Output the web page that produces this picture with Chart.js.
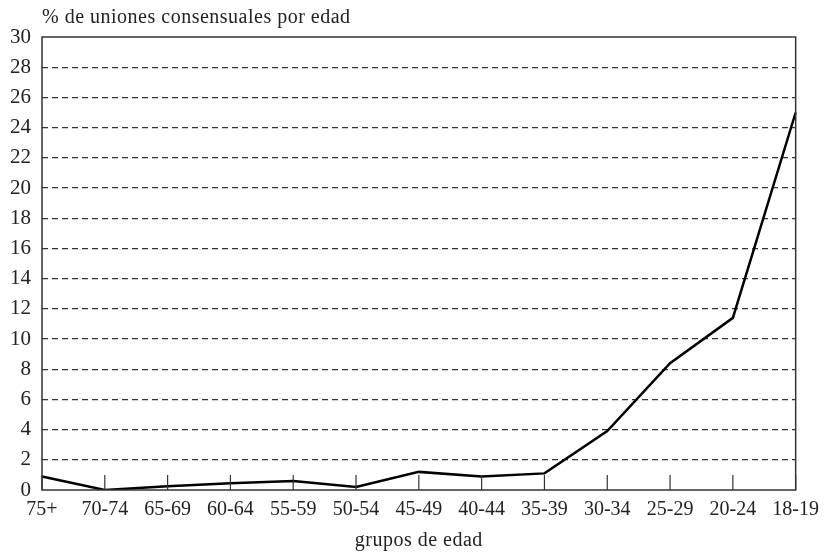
<!DOCTYPE html>
<html>
<head>
<meta charset="utf-8">
<script src="https://cdn.jsdelivr.net/npm/chart.js@4.4.1/dist/chart.umd.min.js"></script>
<style>
  html, body { margin: 0; padding: 0; background: #fff; }
  #wrap { width: 827px; height: 555px; position: relative; }
</style>
</head>
<body>
<div id="wrap"><canvas id="chart"></canvas></div>
<script>
// -----------------------------
// Data
// -----------------------------
const ageGroups = ["75+", "70-74", "65-69", "60-64", "55-59", "50-54", "45-49",
  "40-44", "35-39", "30-34", "25-29", "20-24", "18-19"];
const consensualPct = [0.9, 0.0, 0.25, 0.45, 0.6, 0.2, 1.2, 0.9, 1.1, 3.9, 8.4, 11.4, 25.0];
const yTicks = [0, 2, 4, 6, 8, 10, 12, 14, 16, 18, 20, 22, 24, 26, 28, 30];

const yTitle = "% de uniones consensuales por edad";
const xTitle = "grupos de edad";

const FONT = "'Liberation Serif', 'Times New Roman', serif";
const INK = "#222";

// -----------------------------
// Frame, inward ticks and titles
// -----------------------------
const framePlugin = {
  id: "frame",
  afterDraw(chart) {
    const { ctx, chartArea: a, scales } = chart;
    ctx.save();
    ctx.strokeStyle = "#333";
    ctx.lineWidth = 1.5;
    ctx.strokeRect(a.left, a.top, a.right - a.left, a.bottom - a.top);

    // category ticks pointing up into the plot
    ctx.lineWidth = 1.2;
    const x = scales.x;
    ageGroups.forEach((_, i) => {
      const px = x.getPixelForTick(i);
      ctx.beginPath();
      ctx.moveTo(px, a.bottom);
      ctx.lineTo(px, a.bottom - 15);
      ctx.stroke();
    });

    ctx.fillStyle = INK;
    ctx.font = "20px " + FONT;
    ctx.letterSpacing = "0.5px";
    ctx.textBaseline = "middle";
    ctx.textAlign = "left";
    ctx.fillText(yTitle, a.left, 18);
    ctx.textAlign = "center";
    ctx.fillText(xTitle, (a.left + a.right) / 2, 541);
    ctx.restore();
  }
};

// -----------------------------
// Chart
// -----------------------------
new Chart(document.getElementById("chart"), {
  type: "line",
  data: {
    labels: ageGroups,
    datasets: [{
      data: consensualPct,
      borderColor: "#000",
      borderWidth: 2.5,
      pointRadius: 0,
      tension: 0,
      fill: false
    }]
  },
  options: {
    responsive: true,
    maintainAspectRatio: false,
    animation: false,
    layout: { padding: { top: 37, right: 28, left: 0, bottom: 0 } },
    plugins: {
      legend: { display: false },
      tooltip: { enabled: false }
    },
    scales: {
      x: {
        type: "category",
        offset: false,
        grid: { display: false, drawTicks: false },
        border: { display: false },
        ticks: {
          color: INK,
          font: { family: FONT, size: 20 },
          padding: 8,
          maxRotation: 0,
          autoSkip: false
        },
        afterFit(scale) { scale.height = 65; }
      },
      y: {
        min: 0,
        max: 30,
        afterBuildTicks(scale) { scale.ticks = yTicks.map(v => ({ value: v })); },
        grid: {
          drawTicks: false,
          lineWidth: 1.2,
          color: ctx => (ctx.tick && (ctx.tick.value === 0 || ctx.tick.value === 30)) ? "rgba(0,0,0,0)" : "#333"
        },
        border: { display: false, dash: [6, 4] },
        ticks: {
          color: INK,
          font: { family: FONT, size: 21 },
          padding: 11
        },
        afterFit(scale) { scale.width = 42; }
      }
    }
  },
  plugins: [framePlugin]
});
</script>
</body>
</html>
